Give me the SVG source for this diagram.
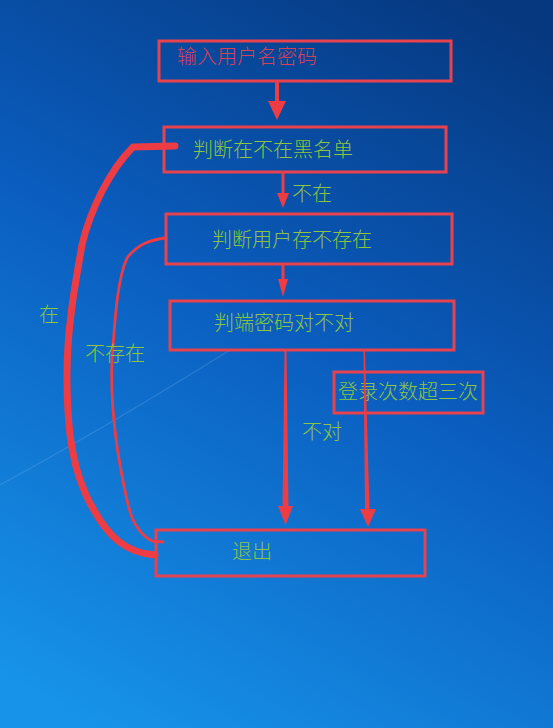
<svg xmlns="http://www.w3.org/2000/svg" width="553" height="728" viewBox="0 0 553 728">
<defs>
<linearGradient id="bg" x1="480" y1="0" x2="80" y2="728" gradientUnits="userSpaceOnUse">
<stop offset="0" stop-color="#06387f"/>
<stop offset="0.45" stop-color="#0a5cbd"/>
<stop offset="1" stop-color="#1794ea"/>
</linearGradient>
<style>
.box{fill:none;stroke:#e8424e;stroke-width:3}
.t{font-family:"Noto Sans CJK SC","Noto Sans",sans-serif;font-size:20px;font-weight:300;fill:#8cc63e}
.line{fill:none;stroke:#ee3c44;stroke-linecap:round;stroke-linejoin:round}
.head{fill:#ee3c44}
</style>
</defs>
<rect width="553" height="728" fill="url(#bg)"/>
<path d="M0,485 Q110,425 230,350" fill="none" stroke="#9fd0ff" stroke-opacity="0.2" stroke-width="1.2"/>

<g id="n1"><rect class="box" x="159" y="41" width="292" height="40"/><text class="t" x="177" y="64" style="fill:#d6405c">输入用户名密码</text></g>
<g id="n2"><rect class="box" x="164" y="127" width="282" height="45"/><text class="t" x="193" y="157">判断在不在黑名单</text></g>
<g id="n3"><rect class="box" x="166" y="214" width="286" height="50"/><text class="t" x="212" y="247">判断用户存不存在</text></g>
<g id="n4"><rect class="box" x="170" y="301" width="284" height="49"/><text class="t" x="214" y="330">判端密码对不对</text></g>
<g id="n5"><rect class="box" x="334" y="372" width="149" height="41"/><text class="t" x="338" y="399">登录次数超三次</text></g>
<g id="n6"><rect class="box" x="156" y="530" width="269" height="46"/><text class="t" x="232" y="559">退出</text></g>

<g id="connectors">
<path class="line" stroke-width="4" d="M277,83 L277,102"/>
<polygon class="head" points="268,101 286,101 277,120"/>
<path class="line" stroke-width="3" d="M283,173 L283,194"/>
<polygon class="head" points="277,193 289,193 283,208"/>
<path class="line" stroke-width="3" d="M283,265 L283,280"/>
<polygon class="head" points="278,279 288,279 283,297"/>
<polygon class="head" points="284.5,351 286.5,351 288.5,508 282.5,508"/>
<polygon class="head" points="278,506 293,506 285.5,525"/>
<polygon class="head" points="363.5,351 365,351 369.5,510 365,510"/>
<polygon class="head" points="360,509 376,509 368,527"/>
<path class="line" stroke-width="7" d="M175,146 L133,147 C110,170 90,210 82,245 C74,290 67,330 67,375 C67,430 72,475 95,512 C108,535 125,553 155,555"/>
<path class="line" stroke-width="2.8" d="M165,238 C150,240 138,244 127,258 C117,280 115,320 112,360 C110,410 118,460 127,500 C131,520 140,535 152,541 L163,542"/>
</g>
<text class="t" x="292" y="201">不在</text>
<text class="t" x="302" y="439">不对</text>
<text class="t" x="39" y="322">在</text>
<text class="t" x="85" y="361">不存在</text>
</svg>
